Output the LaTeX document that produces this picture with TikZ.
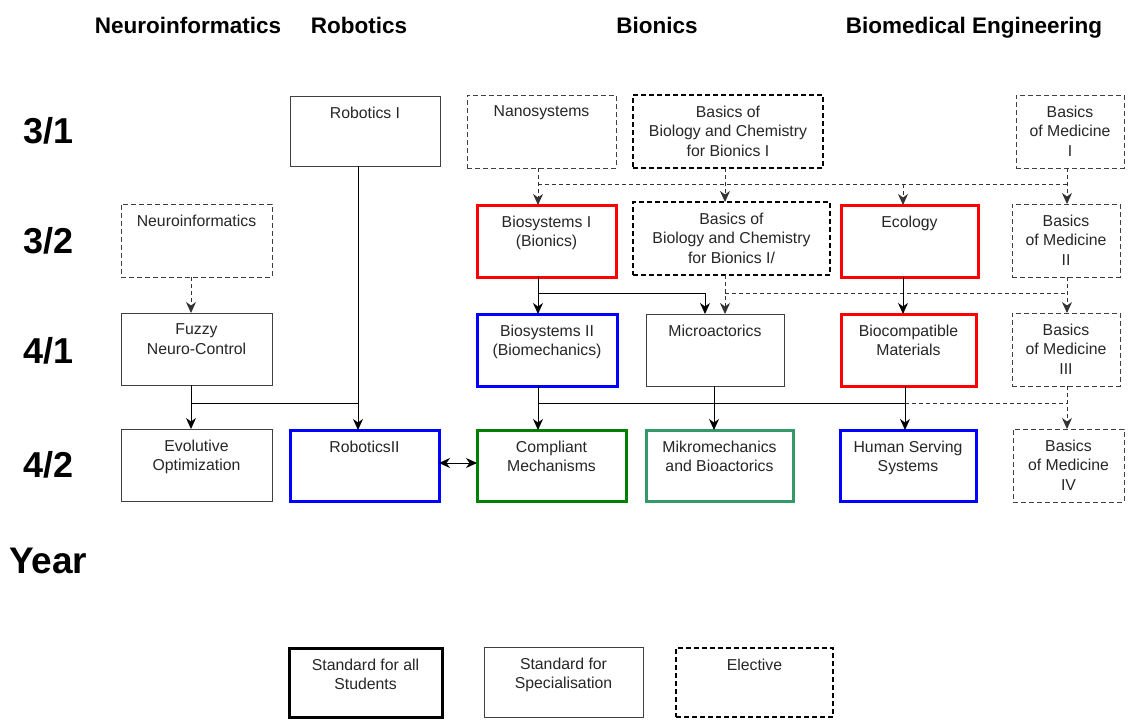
\documentclass[tikz,border=0pt]{standalone}
\usepackage{fontspec}
\setmainfont{Liberation Sans}
\usetikzlibrary{arrows.meta}
\definecolor{seagr}{HTML}{339966}
\definecolor{dkgreen}{HTML}{008000}
\definecolor{edgegray}{HTML}{404040}
\tikzset{
  bx/.style={rectangle, outer sep=0pt, inner sep=0pt},
  thinbox/.style={bx, draw=edgegray, line width=1pt},
  gbox/.style={bx, draw=edgegray, line width=1pt, dash pattern=on 5pt off 3pt},
  kbox/.style={bx, draw=black, line width=2pt, dash pattern=on 5pt off 3pt},
  redbox/.style={bx, draw=red, line width=3pt},
  bluebox/.style={bx, draw=blue, line width=3pt},
  greenbox/.style={bx, draw=dkgreen, line width=3pt},
  seabox/.style={bx, draw=seagr, line width=3pt},
  stdbox/.style={bx, draw=black, line width=3pt},
  boxtxt/.style={anchor=north, inner sep=0pt, yshift=-10.5pt, align=center,
    font=\fontsize{15.8}{19.5}\selectfont, text=black!85},
  sline/.style={draw=black, line width=1pt},
  dline/.style={draw=black!80, line width=1pt, dash pattern=on 4pt off 3pt},
  arrowend/.style={-{Stealth[length=11pt,width=10pt,inset=3.5pt]}},
  arrowboth/.style={{Stealth[length=11pt,width=10pt,inset=3.5pt]}-{Stealth[length=11pt,width=10pt,inset=3.5pt]}},
  hdr/.style={font=\fontsize{22.5}{26}\selectfont\bfseries, inner sep=0pt, anchor=base},
  rowlab/.style={font=\fontsize{36}{40}\selectfont\bfseries, inner sep=0pt, anchor=base west},
}
\newcommand\cbox[7]{%
  \node[#6, anchor=north west, minimum width={#4-#2}, minimum height={#5-#3},
        label={[boxtxt]north:{#7}}] (#1) at (#2,#3) {};}
\begin{document}
\begin{tikzpicture}[x=1pt,y=-1pt]
\fill[white] (0,0) rectangle (1128,720);
\useasboundingbox (0,0) rectangle (1128,720);

% headers
\node[hdr] (h1) at (188,33) {Neuroinformatics};
\node[hdr] (h2) at (359,33) {Robotics};
\node[hdr] (h3) at (657,33) {Bionics};
\node[hdr] (h4) at (974,33) {Biomedical Engineering};

% row labels
\node[rowlab] (r1) at (23,143) {3/1};
\node[rowlab] (r2) at (23,253) {3/2};
\node[rowlab] (r3) at (23,363) {4/1};
\node[rowlab] (r4) at (23,477) {4/2};
\node[rowlab, font=\fontsize{37}{40}\selectfont\bfseries] (yr) at (9,573) {Year};

% row 3/1
\cbox{rob1}{290}{96}{440}{166}{thinbox}{Robotics I}
\cbox{nano}{467}{95}{616}{168}{gbox}{Nanosystems}
\cbox{bbio1}{633}{95}{823}{168}{kbox}{Basics of\\Biology and Chemistry\\for Bionics I}
\cbox{med1}{1016}{95}{1124}{168}{gbox}{Basics\\of Medicine\\I}
% row 3/2
\cbox{neuro}{121}{204}{272}{277}{gbox}{Neuroinformatics}
\cbox{bio1}{477}{205}{616}{277}{redbox}{Biosystems I\\(Bionics)}
\cbox{bbio2}{633}{202}{830}{275}{kbox}{Basics of\\Biology and Chemistry\\for Bionics I/}
\cbox{eco}{841}{205}{978}{277}{redbox}{Ecology}
\cbox{med2}{1012}{204}{1120}{277}{gbox}{Basics\\of Medicine\\II}
% row 4/1
\cbox{fuzzy}{121}{313}{272}{385}{thinbox}{Fuzzy\\Neuro-Control}
\cbox{bio2}{477}{314}{617}{386}{bluebox}{Biosystems II\\(Biomechanics)}
\cbox{micro}{646}{314}{784}{386}{thinbox}{Microactorics}
\cbox{biocomp}{841}{314}{976}{386}{redbox}{Biocompatible\\Materials}
\cbox{med3}{1012}{313}{1120}{386}{gbox}{Basics\\of Medicine\\III}
% row 4/2
\cbox{evo}{121}{429}{272}{501}{thinbox}{Evolutive\\Optimization}
\cbox{rob2}{290}{430}{439}{501}{bluebox}{RoboticsII}
\cbox{compl}{477}{430}{626}{501}{greenbox}{Compliant\\Mechanisms}
\cbox{mikro}{646}{430}{793}{501}{seabox}{Mikromechanics\\and Bioactorics}
\cbox{human}{840}{430}{976}{501}{bluebox}{Human Serving\\Systems}
\cbox{med4}{1013}{429}{1124}{502}{gbox}{Basics\\of Medicine\\IV}
% legend
\cbox{leg1}{289}{648}{442}{717}{stdbox}{Standard for all\\Students}
\cbox{leg2}{484}{647}{643}{717}{thinbox}{Standard for\\Specialisation}
\cbox{leg3}{676}{648}{833}{717}{kbox}{Elective}

% helper coordinates (columns and bus levels)
\coordinate (cF) at (191,0);
\coordinate (cR) at (358,0);
\coordinate (cA) at (538,0);
\coordinate (cMa) at (705,0);
\coordinate (cMi) at (714,0);
\coordinate (cB) at (725,0);
\coordinate (cE) at (903,0);
\coordinate (cH) at (905,0);
\coordinate (cM) at (1067,0);
\coordinate (bus1) at (0,184);
\coordinate (bus2) at (0,293);
\coordinate (bus3) at (0,403);
\coordinate (cY) at (0,463);

% connectors 3/1 -> 3/2 (dashed bus)
\draw[dline, arrowend] (nano.south -| cA) -- (bio1.north -| cA);
\draw[dline] (bus1 -| cA) -- (bus1 -| cM);
\draw[dline, arrowend] (bbio1.south -| cB) -- (bbio2.north -| cB);
\draw[dline, arrowend] (bus1 -| cE) -- (eco.north -| cE);
\draw[dline, arrowend] (med1.south -| cM) -- (med2.north -| cM);

% connectors 3/2 -> 4/1
\draw[dline, arrowend] (neuro.south -| cF) -- (fuzzy.north -| cF);
\draw[sline, arrowend] (bio1.south -| cA) -- (bio2.north -| cA);
\draw[sline, arrowend] (bus2 -| cA) -- (bus2 -| cMa) -- (micro.north -| cMa);
\draw[dline, arrowend] (bbio2.south -| cB) -- (micro.north -| cB);
\draw[dline] (bus2 -| cB) -- (bus2 -| cM);
\draw[dline, arrowend] (med2.south -| cM) -- (med3.north -| cM);
\draw[sline, arrowend] (eco.south -| cE) -- (biocomp.north -| cE);

% connectors 4/1 -> 4/2
\draw[sline, arrowend] (rob1.south -| cR) -- (rob2.north -| cR);
\draw[sline, arrowend] (fuzzy.south -| cF) -- (evo.north -| cF);
\draw[sline] (bus3 -| cF) -- (bus3 -| cR);
\draw[sline, arrowend] (bio2.south -| cA) -- (compl.north -| cA);
\draw[sline] (bus3 -| cA) -- (bus3 -| cH);
\draw[sline, arrowend] (micro.south -| cMi) -- (mikro.north -| cMi);
\draw[sline, arrowend] (biocomp.south -| cH) -- (human.north -| cH);
\draw[dline] (bus3 -| cH) -- (bus3 -| cM);
\draw[dline, arrowend] (med3.south -| cM) -- (med4.north -| cM);

% double arrow
\draw[sline, arrowboth] (rob2.east |- cY) -- (compl.west |- cY);
\end{tikzpicture}
\end{document}
